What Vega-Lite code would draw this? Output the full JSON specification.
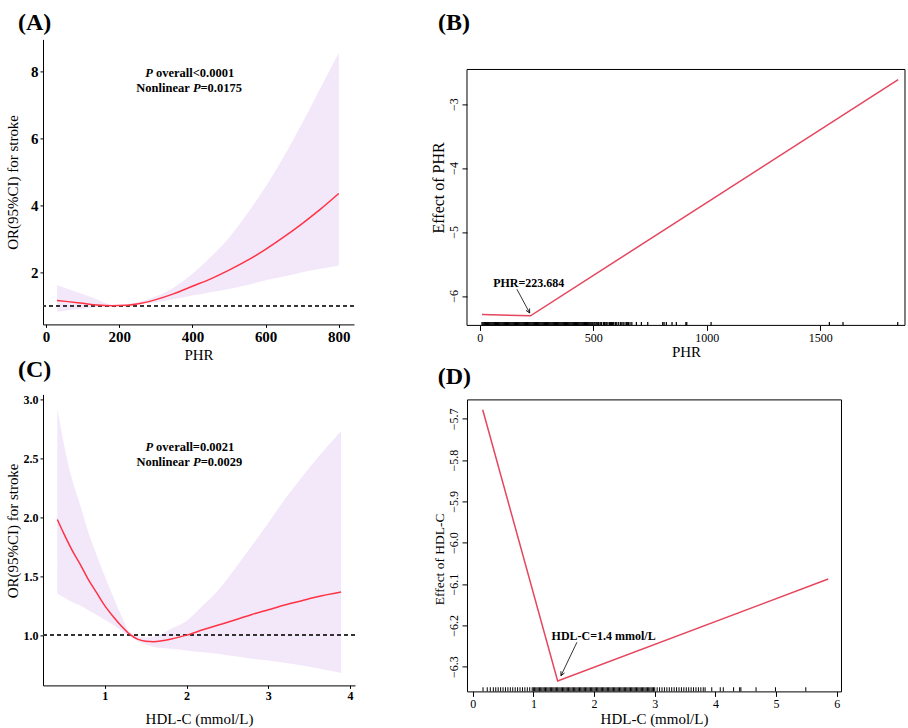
{
  "$schema": "https://vega.github.io/schema/vega-lite/v6.json",
  "padding": {"left": 5, "top": 10.4, "right": 0, "bottom": 0},
  "background": "white",
  "config": {
    "font": "Liberation Serif",
    "view": {"stroke": null},
    "axis": {"grid": false, "labelFont": "Liberation Serif", "titleFont": "Liberation Serif", "labelColor": "black", "titleColor": "black", "tickColor": "black", "domainColor": "black", "titleFontWeight": "normal", "labelFontSize": 12, "titleFontSize": 15, "domainWidth": 1, "tickWidth": 1}
  },
  "datasets": {
    "curveA": [
      {"x": 30, "fit": 1.155, "lo": 0.82, "hi": 1.62},
      {"x": 60, "fit": 1.12, "lo": 0.86, "hi": 1.5},
      {"x": 100, "fit": 1.07, "lo": 0.91, "hi": 1.35},
      {"x": 140, "fit": 1.02, "lo": 0.96, "hi": 1.18},
      {"x": 180, "fit": 1.0, "lo": 0.99, "hi": 1.03},
      {"x": 220, "fit": 1.01, "lo": 1.0, "hi": 1.05},
      {"x": 260, "fit": 1.07, "lo": 1.04, "hi": 1.13},
      {"x": 300, "fit": 1.18, "lo": 1.1, "hi": 1.27},
      {"x": 350, "fit": 1.36, "lo": 1.2, "hi": 1.55},
      {"x": 400, "fit": 1.58, "lo": 1.3, "hi": 1.95},
      {"x": 450, "fit": 1.8, "lo": 1.4, "hi": 2.45},
      {"x": 500, "fit": 2.06, "lo": 1.5, "hi": 3.03},
      {"x": 550, "fit": 2.35, "lo": 1.62, "hi": 3.75},
      {"x": 600, "fit": 2.68, "lo": 1.76, "hi": 4.55},
      {"x": 650, "fit": 3.05, "lo": 1.87, "hi": 5.45},
      {"x": 700, "fit": 3.45, "lo": 2.0, "hi": 6.45},
      {"x": 750, "fit": 3.88, "lo": 2.1, "hi": 7.5},
      {"x": 800, "fit": 4.35, "lo": 2.2, "hi": 8.55}
    ],
    "curveC": [
      {"x": 0.42, "fit": 1.98, "lo": 1.35, "hi": 2.92},
      {"x": 0.5, "fit": 1.86, "lo": 1.32, "hi": 2.62},
      {"x": 0.6, "fit": 1.72, "lo": 1.28, "hi": 2.32},
      {"x": 0.7, "fit": 1.6, "lo": 1.25, "hi": 2.1},
      {"x": 0.8, "fit": 1.47, "lo": 1.21, "hi": 1.87},
      {"x": 0.9, "fit": 1.36, "lo": 1.17, "hi": 1.68},
      {"x": 1.0, "fit": 1.25, "lo": 1.13, "hi": 1.5},
      {"x": 1.1, "fit": 1.16, "lo": 1.09, "hi": 1.33},
      {"x": 1.2, "fit": 1.08, "lo": 1.04, "hi": 1.17},
      {"x": 1.3, "fit": 1.01, "lo": 0.995, "hi": 1.03},
      {"x": 1.4, "fit": 0.966, "lo": 0.95, "hi": 0.99},
      {"x": 1.5, "fit": 0.948, "lo": 0.92, "hi": 0.98},
      {"x": 1.6, "fit": 0.944, "lo": 0.9, "hi": 0.99},
      {"x": 1.7, "fit": 0.952, "lo": 0.89, "hi": 1.01},
      {"x": 1.8, "fit": 0.965, "lo": 0.885, "hi": 1.05},
      {"x": 2.0, "fit": 1.0, "lo": 0.87, "hi": 1.12},
      {"x": 2.2, "fit": 1.045, "lo": 0.855, "hi": 1.25},
      {"x": 2.4, "fit": 1.088, "lo": 0.84, "hi": 1.39},
      {"x": 2.6, "fit": 1.13, "lo": 0.82, "hi": 1.57},
      {"x": 2.8, "fit": 1.175, "lo": 0.8, "hi": 1.76},
      {"x": 3.0, "fit": 1.215, "lo": 0.785, "hi": 1.95},
      {"x": 3.2, "fit": 1.255, "lo": 0.765, "hi": 2.15},
      {"x": 3.4, "fit": 1.29, "lo": 0.745, "hi": 2.33},
      {"x": 3.6, "fit": 1.325, "lo": 0.72, "hi": 2.5},
      {"x": 3.89, "fit": 1.365, "lo": 0.68, "hi": 2.73}
    ],
    "annA": [
      {"x": 271, "y": 7.94, "label": "P", "face": "italic"},
      {"x": 300.5, "y": 7.94, "label": "overall<0.0001", "face": "bold"},
      {"x": 246.7, "y": 7.49, "label": "Nonlinear", "face": "bold"},
      {"x": 401.4, "y": 7.49, "label": "P", "face": "italic"},
      {"x": 422, "y": 7.49, "label": "=0.0175", "face": "bold"}
    ],
    "annC": [
      {"x": 1.497, "y": 2.59, "label": "P", "face": "italic"},
      {"x": 1.628, "y": 2.59, "label": "overall=0.0021", "face": "bold"},
      {"x": 1.387, "y": 2.466, "label": "Nonlinear", "face": "bold"},
      {"x": 2.08, "y": 2.466, "label": "P", "face": "italic"},
      {"x": 2.173, "y": 2.466, "label": "=0.0029", "face": "bold"}
    ],
    "lineB": [
      {"x": 10, "y": -6.29},
      {"x": 223.684, "y": -6.31},
      {"x": 1843, "y": -2.62}
    ],
    "lineD": [
      {"x": 0.165, "y": -5.678},
      {"x": 1.4, "y": -6.335},
      {"x": 5.86, "y": -6.088}
    ],
    "arrowB": [{"x1": 164, "y1": -5.895, "x2": 220, "y2": -6.266, "label": "PHR=223.684", "tx": 216, "ty": -5.8}],
    "arrowD": [{"x1": 1.718, "y1": -6.241, "x2": 1.455, "y2": -6.322, "label": "HDL-C=1.4 mmol/L", "tx": 2.158, "ty": -6.225}],
    "frameB": [{"x1": -56, "x2": 1873, "y1": -6.46, "y2": -2.46}],
    "rugB": [10,14,18,22,26,30,34,38,42,46,50,54,58,62,66,70,74,78,82,86,90,94,98,102,106,110,114,118,122,126,130,134,138,142,146,150,154,158,162,166,170,174,178,182,186,190,194,198,202,206,210,214,218,222,226,230,234,238,242,246,250,254,258,262,266,270,274,278,282,286,290,294,298,302,306,310,314,318,322,326,330,334,338,342,346,350,354,358,362,366,370,374,378,382,386,390,394,398,402,406,410,414,418,422,426,430,434,438,442,446,450,454,458,462,466,470,474,478,482,486,490,494,498,503,507,512,516,520,524,530,534,537,545,549,551,556,560,565,572,576,580,585,590,597,600,604,612,620,626,632,640,647,652,655,662,670,690,712,740,806,812,822,847,866,908,912,1019,1540,1600,1841],
    "rugD": [0.17,0.24,0.29,0.34,0.38,0.42,0.46,0.5,0.54,0.58,0.62,0.66,0.7,0.74,0.78,0.82,0.86,0.9,0.94,0.98,1,1.02,1.04,1.06,1.08,1.1,1.12,1.14,1.16,1.18,1.2,1.22,1.24,1.26,1.28,1.3,1.32,1.34,1.36,1.38,1.4,1.42,1.44,1.46,1.48,1.5,1.52,1.54,1.56,1.58,1.6,1.62,1.64,1.66,1.68,1.7,1.72,1.74,1.76,1.78,1.8,1.82,1.84,1.86,1.88,1.9,1.92,1.94,1.96,1.98,2,2.02,2.04,2.06,2.08,2.1,2.12,2.14,2.16,2.18,2.2,2.22,2.24,2.26,2.28,2.3,2.32,2.34,2.36,2.38,2.4,2.42,2.44,2.46,2.48,2.5,2.52,2.54,2.56,2.58,2.6,2.62,2.64,2.66,2.68,2.7,2.72,2.74,2.76,2.78,2.8,2.82,2.84,2.86,2.88,2.9,2.92,2.94,2.96,2.98,3,3.04,3.08,3.12,3.16,3.2,3.24,3.28,3.32,3.36,3.4,3.44,3.48,3.52,3.56,3.6,3.64,3.68,3.72,3.76,3.8,3.83,3.94,4.08,4.13,4.3,4.4,4.42,4.67,4.99,5.49]
  },
  "spacing": 74,
  "hconcat": [
    {
      "spacing": -5,
      "vconcat": [
        {
          "width": 311, "height": 285,
          "title": {"text": "(A)", "anchor": "start", "frame": "group", "fontSize": 24, "fontWeight": "bold", "font": "Liberation Serif", "dx": -25, "offset": -14.2, "baseline": "alphabetic", "color": "black"},
          "layer": [
            {
              "data": {"name": "curveA"},
              "mark": {"type": "area", "color": "#F3E7FA", "opacity": 1, "interpolate": "monotone"},
              "encoding": {
                "x": {"field": "x", "type": "quantitative", "scale": {"domain": [-8.2, 841.5], "nice": false, "zero": false},
                      "axis": {"title": "PHR", "values": [0, 200, 400, 600, 800], "labelFontWeight": "bold", "labelFontSize": 15, "tickSize": 3, "labelPadding": 2, "titlePadding": 3}},
                "y": {"field": "lo", "type": "quantitative", "scale": {"domain": [0.44, 8.95], "nice": false, "zero": false},
                      "axis": {"title": "OR(95%CI) for stroke", "values": [2, 4, 6, 8], "labelFontWeight": "bold", "labelFontSize": 15, "tickSize": 3, "labelPadding": 2, "titlePadding": 10}},
                "y2": {"field": "hi"}
              }
            },
            {
              "data": {"name": "curveA"},
              "mark": {"type": "rule", "color": "#333333", "strokeDash": [4, 3], "strokeWidth": 1},
              "encoding": {"y": {"datum": 1}}
            },
            {
              "data": {"name": "curveA"},
              "mark": {"type": "line", "color": "#FF3344", "strokeWidth": 1.5, "interpolate": "monotone"},
              "encoding": {"x": {"field": "x", "type": "quantitative"}, "y": {"field": "fit", "type": "quantitative"}}
            },
            {
              "data": {"name": "annA"},
              "transform": [{"filter": "datum.face == 'italic'"}],
              "mark": {"type": "text", "align": "left", "baseline": "middle", "fontSize": 12.5, "fontWeight": "bold", "fontStyle": "italic", "font": "Liberation Serif", "color": "black"},
              "encoding": {"x": {"field": "x", "type": "quantitative"}, "y": {"field": "y", "type": "quantitative"}, "text": {"field": "label"}}
            },
            {
              "data": {"name": "annA"},
              "transform": [{"filter": "datum.face == 'bold'"}],
              "mark": {"type": "text", "align": "left", "baseline": "middle", "fontSize": 12.5, "fontWeight": "bold", "font": "Liberation Serif", "color": "black"},
              "encoding": {"x": {"field": "x", "type": "quantitative"}, "y": {"field": "y", "type": "quantitative"}, "text": {"field": "label"}}
            }
          ]
        },
        {
          "width": 312, "height": 291,
          "title": {"text": "(C)", "anchor": "start", "frame": "group", "fontSize": 24, "fontWeight": "bold", "font": "Liberation Serif", "dx": -25, "offset": -7.8, "baseline": "alphabetic", "color": "black"},
          "layer": [
            {
              "data": {"name": "curveC"},
              "mark": {"type": "area", "color": "#F3E7FA", "opacity": 1, "interpolate": "monotone"},
              "encoding": {
                "x": {"field": "x", "type": "quantitative", "scale": {"domain": [0.245, 4.06], "nice": false, "zero": false},
                      "axis": {"title": "HDL-C (mmol/L)", "values": [1, 2, 3, 4], "format": "d", "labelFontWeight": "bold", "labelFontSize": 12, "tickSize": 3, "labelPadding": 2, "titlePadding": 10}},
                "y": {"field": "lo", "type": "quantitative", "scale": {"domain": [0.574, 3.04], "nice": false, "zero": false},
                      "axis": {"title": "OR(95%CI) for stroke", "titleY": 136, "values": [1, 1.5, 2, 2.5, 3], "format": ".1f", "labelFontWeight": "bold", "labelFontSize": 12, "tickSize": 3, "labelPadding": 2, "titlePadding": 3}},
                "y2": {"field": "hi"}
              }
            },
            {
              "data": {"name": "curveC"},
              "mark": {"type": "rule", "color": "#333333", "strokeDash": [4, 3], "strokeWidth": 1},
              "encoding": {"y": {"datum": 1}}
            },
            {
              "data": {"name": "curveC"},
              "mark": {"type": "line", "color": "#FF3344", "strokeWidth": 1.5, "interpolate": "monotone"},
              "encoding": {"x": {"field": "x", "type": "quantitative"}, "y": {"field": "fit", "type": "quantitative"}}
            },
            {
              "data": {"name": "annC"},
              "transform": [{"filter": "datum.face == 'italic'"}],
              "mark": {"type": "text", "align": "left", "baseline": "middle", "fontSize": 12.5, "fontWeight": "bold", "fontStyle": "italic", "font": "Liberation Serif", "color": "black"},
              "encoding": {"x": {"field": "x", "type": "quantitative"}, "y": {"field": "y", "type": "quantitative"}, "text": {"field": "label"}}
            },
            {
              "data": {"name": "annC"},
              "transform": [{"filter": "datum.face == 'bold'"}],
              "mark": {"type": "text", "align": "left", "baseline": "middle", "fontSize": 12.5, "fontWeight": "bold", "font": "Liberation Serif", "color": "black"},
              "encoding": {"x": {"field": "x", "type": "quantitative"}, "y": {"field": "y", "type": "quantitative"}, "text": {"field": "label"}}
            }
          ]
        }
      ]
    },
    {
      "spacing": 5,
      "vconcat": [
        {
          "width": 438, "height": 286,
          "title": {"text": "(B)", "anchor": "start", "frame": "group", "fontSize": 24, "fontWeight": "bold", "font": "Liberation Serif", "dx": -29, "offset": -14.2, "baseline": "alphabetic", "color": "black"},
          "layer": [
            {
              "data": {"name": "rugB"},
              "mark": {"type": "rule", "color": "black", "strokeWidth": 1.2},
              "encoding": {
                "x": {"field": "data", "type": "quantitative", "scale": {"domain": [-56, 1873], "nice": false, "zero": false},
                      "axis": {"title": "PHR", "values": [0, 500, 1000, 1500], "format": "d", "domain": false, "tickSize": 5, "labelFontSize": 12, "labelPadding": 2, "titlePadding": 1, "titleFontSize": 15}},
                "y": {"datum": -6.46, "type": "quantitative", "scale": {"domain": [-6.46, -1.99], "nice": false, "zero": false},
                      "axis": {"title": "Effect of PHR", "titleY": 148, "values": [-3, -4, -5, -6], "format": "d", "domain": false, "tickSize": 5, "labelFontSize": 12, "labelAngle": -90, "labelAlign": "center", "labelBaseline": "bottom", "labelPadding": 1, "titlePadding": 2, "titleFontSize": 16}},
                "y2": {"datum": -6.408}
              }
            },
            {
              "data": {"name": "frameB"},
              "mark": {"type": "rect", "filled": false, "stroke": "black", "strokeWidth": 1},
              "encoding": {"x": {"field": "x1", "type": "quantitative"}, "x2": {"field": "x2"}, "y": {"field": "y1", "type": "quantitative"}, "y2": {"field": "y2"}}
            },
            {
              "data": {"name": "lineB"},
              "mark": {"type": "line", "color": "#E5465E", "strokeWidth": 1.5},
              "encoding": {"x": {"field": "x", "type": "quantitative"}, "y": {"field": "y", "type": "quantitative"}}
            },
            {
              "data": {"name": "arrowB"},
              "mark": {"type": "rule", "color": "black", "strokeWidth": 0.8},
              "encoding": {"x": {"field": "x1", "type": "quantitative"}, "y": {"field": "y1", "type": "quantitative"}, "x2": {"field": "x2"}, "y2": {"field": "y2"}}
            },
            {
              "data": {"name": "arrowB"},
              "mark": {"type": "point", "shape": "M-0.5,-1L0,0L0.5,-1", "size": 64, "filled": false, "color": "black", "strokeWidth": 0.8, "angle": -28, "opacity": 1},
              "encoding": {"x": {"field": "x2", "type": "quantitative"}, "y": {"field": "y2", "type": "quantitative"}}
            },
            {
              "data": {"name": "arrowB"},
              "mark": {"type": "text", "align": "center", "baseline": "middle", "fontSize": 12, "fontWeight": "bold", "font": "Liberation Serif", "color": "black"},
              "encoding": {"x": {"field": "tx", "type": "quantitative"}, "y": {"field": "ty", "type": "quantitative"}, "text": {"field": "label"}}
            }
          ]
        },
        {
          "width": 374, "height": 292,
          "view": {"stroke": "black", "strokeWidth": 1},
          "title": {"text": "(D)", "anchor": "start", "frame": "group", "fontSize": 24, "fontWeight": "bold", "font": "Liberation Serif", "dx": -29.3, "offset": -8.8, "baseline": "alphabetic", "color": "black"},
          "layer": [
            {
              "data": {"name": "rugD"},
              "mark": {"type": "rule", "color": "black", "strokeWidth": 1},
              "encoding": {
                "x": {"field": "data", "type": "quantitative", "scale": {"domain": [-0.094, 6.07], "nice": false, "zero": false},
                      "axis": {"title": "HDL-C (mmol/L)", "values": [0, 1, 2, 3, 4, 5, 6], "format": "d", "domain": false, "tickSize": 5, "labelFontSize": 12, "labelPadding": 2, "titlePadding": 2, "titleFontSize": 15}},
                "y": {"datum": -6.36, "type": "quantitative", "scale": {"domain": [-6.36, -5.653], "nice": false, "zero": false},
                      "axis": {"title": "Effect of HDL-C", "titleY": 159.5, "values": [-5.7, -5.8, -5.9, -6.0, -6.1, -6.2, -6.3], "format": ".1f", "domain": false, "tickSize": 5, "labelFontSize": 12, "labelAngle": -90, "labelAlign": "center", "labelBaseline": "bottom", "labelPadding": 1, "titlePadding": 2, "titleFontSize": 13.5}},
                "y2": {"datum": -6.35}
              }
            },
            {
              "data": {"name": "lineD"},
              "mark": {"type": "line", "color": "#E5465E", "strokeWidth": 1.5},
              "encoding": {"x": {"field": "x", "type": "quantitative"}, "y": {"field": "y", "type": "quantitative"}}
            },
            {
              "data": {"name": "arrowD"},
              "mark": {"type": "rule", "color": "black", "strokeWidth": 0.8},
              "encoding": {"x": {"field": "x1", "type": "quantitative"}, "y": {"field": "y1", "type": "quantitative"}, "x2": {"field": "x2"}, "y2": {"field": "y2"}}
            },
            {
              "data": {"name": "arrowD"},
              "mark": {"type": "point", "shape": "M-0.5,-1L0,0L0.5,-1", "size": 64, "filled": false, "color": "black", "strokeWidth": 0.8, "angle": 25.7, "opacity": 1},
              "encoding": {"x": {"field": "x2", "type": "quantitative"}, "y": {"field": "y2", "type": "quantitative"}}
            },
            {
              "data": {"name": "arrowD"},
              "mark": {"type": "text", "align": "center", "baseline": "middle", "fontSize": 12, "fontWeight": "bold", "font": "Liberation Serif", "color": "black"},
              "encoding": {"x": {"field": "tx", "type": "quantitative"}, "y": {"field": "ty", "type": "quantitative"}, "text": {"field": "label"}}
            }
          ]
        }
      ]
    }
  ]
}
